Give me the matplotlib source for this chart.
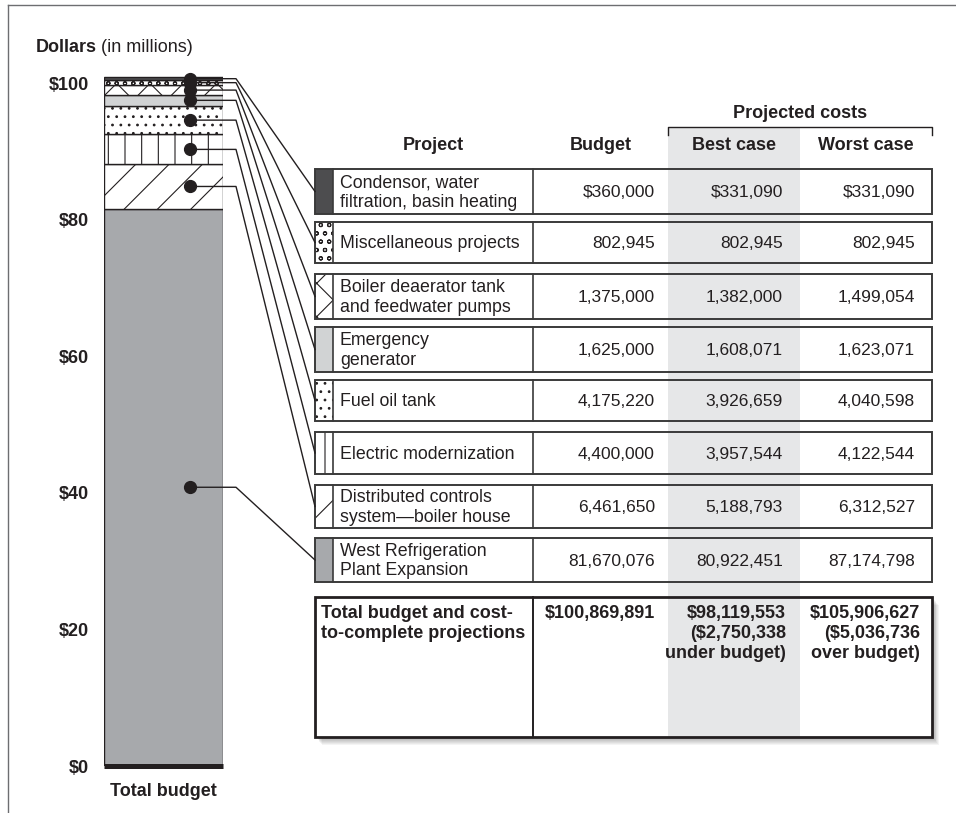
import matplotlib
matplotlib.use("Agg")
import matplotlib.pyplot as plt
from matplotlib.patches import Rectangle
import numpy as np

plt.rcParams['font.family'] = ['Liberation Sans', 'DejaVu Sans']
plt.rcParams['hatch.linewidth'] = 0.8
plt.rcParams['hatch.color'] = '#231f20'

# ---------------- data ----------------
projects = ["Condensor, water\nfiltration, basin heating",
            "Miscellaneous projects",
            "Boiler deaerator tank\nand feedwater pumps",
            "Emergency\ngenerator",
            "Fuel oil tank",
            "Electric modernization",
            "Distributed controls\nsystem\u2014boiler house",
            "West Refrigeration\nPlant Expansion"]
budget = [360000, 802945, 1375000, 1625000, 4175220, 4400000, 6461650, 81670076]
best = [331090, 802945, 1382000, 1608071, 3926659, 3957544, 5188793, 80922451]
worst = [331090, 802945, 1499054, 1623071, 4040598, 4122544, 6312527, 87174798]
col_headers = ["Project", "Budget", "Best case", "Worst case"]
group_header = "Projected costs"
total_label = "Total budget and cost-\nto-complete projections"
y_ticks = [0, 20, 40, 60, 80, 100]
y_tick_labels = ["$0", "$20", "$40", "$60", "$80", "$100"]

fills = ['#4d4d4f', 'white', 'white', '#d1d3d4', 'white', 'white', 'white', '#a7a9ac']
hatches = [None, 'oo', 'x', None, '..', '|', '/', None]

INK = '#231f20'
LINE = '#3a3a3a'
SHADE = '#e6e7e8'

# ---------------- figure ----------------
W, H = 956, 813
fig = plt.figure(figsize=(W / 100, H / 100), dpi=100)
fig.patch.set_facecolor('white')

PX = 6.826          # pixels per million
Y0 = 766            # pixel row of $0
YMAX = 102
axb = fig.add_axes([104 / W, (H - Y0) / H, 119 / W, YMAX * PX / H])
axb.set_xlim(0, 1)
axb.set_ylim(0, YMAX)
for s in axb.spines.values():
    s.set_visible(False)
axb.set_xticks([])
axb.set_yticks(y_ticks, y_tick_labels)
axb.tick_params(axis='y', length=0, pad=11, labelsize=13, labelcolor=INK)
for lbl in axb.get_yticklabels():
    lbl.set_fontweight('bold')
axb.patch.set_visible(False)

vals = np.array(budget) / 1e6
n = len(projects)
order = list(range(n))[::-1]   # bottom (West) to top (Condensor)
centers = {}
cum = 0.0
for i in order:
    axb.bar(0.5, vals[i], bottom=cum, width=1.0, color=fills[i], hatch=hatches[i],
            edgecolor=INK, linewidth=1.0, zorder=2)
    centers[i] = cum + vals[i] / 2
    cum += vals[i]
axb.plot([0, 1], [0, 0], color=INK, lw=3.6, solid_capstyle='butt', clip_on=False, zorder=4)
DOT_X = 0.72
for i in range(n):
    axb.plot(DOT_X, centers[i], 'o', color=INK, markersize=8.5, zorder=6, clip_on=False)

# ---------------- overlay (pixel coords, y down) ----------------
axo = fig.add_axes([0, 0, 1, 1], zorder=5)
axo.set_xlim(0, W)
axo.set_ylim(H, 0)
axo.axis('off')
axo.patch.set_visible(False)

# frame
axo.plot([8, 8], [5, H], color='#6d6e71', lw=1.0)
axo.plot([8, W], [5, 5], color='#6d6e71', lw=1.0)

# titles
t1 = axo.text(36, 47, "Dollars", fontsize=13, fontweight='bold', color=INK, va='center', ha='left')
fig.canvas.draw()
bb = t1.get_window_extent()
axo.text(bb.x1 + 4, 47, "(in millions)", fontsize=13, color=INK, va='center', ha='left')
axo.text(163, 791, "Total budget", fontsize=13, fontweight='bold', color=INK, ha='center', va='center')

# table geometry
X_L, X_SW, X_TXT, X_BUD, X_BEST, X_WORST, X_R = 315, 333, 533, 668, 668, 800, 932
row_tops = [169, 222, 274, 327, 380, 432, 485, 538]
row_bots = [214, 263, 319, 372, 421, 474, 528, 582]
TOT_T, TOT_B = 597, 737

# best-case column shading
axo.add_patch(Rectangle((X_BEST, 128), X_WORST - X_BEST, TOT_B - 128, facecolor=SHADE,
                        edgecolor='none', zorder=1))

# group header
axo.text((X_BEST + X_R) / 2, 113, group_header, fontsize=13, fontweight='bold', color=INK,
         ha='center', va='center')
axo.plot([X_BEST, X_BEST, X_R, X_R], [135, 127, 127, 135], color=INK, lw=1.0, zorder=3)

# column headers
hx = [(X_SW + X_TXT) / 2, (X_TXT + X_BUD) / 2, (X_BEST + X_WORST) / 2, (X_WORST + X_R) / 2]
for x, t in zip(hx, col_headers):
    axo.text(x, 146, t, fontsize=13, fontweight='bold', color=INK, ha='center', va='center', zorder=4)


def money(v, dollar):
    s = f"{v:,}"
    return "$" + s if dollar else s


for i in range(n):
    t, b = row_tops[i], row_bots[i]
    h = b - t
    axo.add_patch(Rectangle((X_L, t), X_BEST - X_L, h, facecolor='white', edgecolor='none', zorder=2))
    axo.add_patch(Rectangle((X_WORST, t), X_R - X_WORST, h, facecolor='white', edgecolor='none', zorder=2))
    axo.add_patch(Rectangle((X_L, t), X_SW - X_L, h, facecolor=fills[i], hatch=hatches[i],
                            edgecolor=INK, lw=0.0, zorder=3))
    axo.add_patch(Rectangle((X_L, t), X_R - X_L, h, facecolor='none', edgecolor=LINE, lw=1.4, zorder=4))
    axo.plot([X_SW, X_SW], [t, b], color=LINE, lw=1.2, zorder=4)
    axo.plot([X_TXT, X_TXT], [t, b], color=LINE, lw=1.2, zorder=4)
    cy = (t + b) / 2 + 1
    axo.text(X_SW + 7, cy, projects[i], fontsize=12.8, color=INK, ha='left', va='center',
             linespacing=1.22, zorder=5)
    d = (i == 0)
    axo.text(X_BUD - 13, cy, money(budget[i], d), fontsize=12.5, color=INK, ha='right', va='center', zorder=5)
    axo.text(X_WORST - 17, cy, money(best[i], d), fontsize=12.5, color=INK, ha='right', va='center', zorder=5)
    axo.text(X_R - 17, cy, money(worst[i], d), fontsize=12.5, color=INK, ha='right', va='center', zorder=5)

# leader lines from bar dots to table rows
CORNER_X = 236
for i in range(n):
    px, py = axb.transData.transform((DOT_X, centers[i]))
    yd = H - py
    yr = (row_tops[i] + row_bots[i]) / 2
    axo.plot([px, CORNER_X, X_L], [yd, yd, yr], color=INK, lw=1.0, zorder=6)

# total row with shadow
for k in range(1, 9):
    axo.add_patch(Rectangle((X_L + k * 0.9, TOT_T + k * 1.0), X_R - X_L, TOT_B - TOT_T,
                            facecolor='black', edgecolor='none', alpha=0.045, zorder=1.5))
axo.add_patch(Rectangle((X_L, TOT_T), X_BEST - X_L, TOT_B - TOT_T, facecolor='white', edgecolor='none', zorder=2))
axo.add_patch(Rectangle((X_WORST, TOT_T), X_R - X_WORST, TOT_B - TOT_T, facecolor='white', edgecolor='none', zorder=2))
axo.add_patch(Rectangle((X_BEST, TOT_T), X_WORST - X_BEST, TOT_B - TOT_T, facecolor=SHADE, edgecolor='none', zorder=2))
axo.add_patch(Rectangle((X_L, TOT_T), X_R - X_L, TOT_B - TOT_T, facecolor='none', edgecolor=INK, lw=2.0, zorder=4))
axo.plot([X_TXT, X_TXT], [TOT_T, TOT_B], color=INK, lw=1.4, zorder=4)

tb, tbest, tworst = sum(budget), sum(best), sum(worst)
line_y = 605
axo.text(X_L + 6, line_y, total_label, fontsize=13, fontweight='bold', color=INK, ha='left', va='top',
         linespacing=1.22, zorder=5)
axo.text(X_BUD - 13, line_y, f"${tb:,}", fontsize=13, fontweight='bold', color=INK, ha='right', va='top', zorder=5)
axo.text(X_WORST - 14, line_y,
         f"${tbest:,}\n(${tb - tbest:,}\nunder budget)", fontsize=13, fontweight='bold', color=INK,
         ha='right', va='top', linespacing=1.22, multialignment='right', zorder=5)
axo.text(X_R - 12, line_y,
         f"${tworst:,}\n(${tworst - tb:,}\nover budget)", fontsize=13, fontweight='bold', color=INK,
         ha='right', va='top', linespacing=1.22, multialignment='right', zorder=5)

fig.savefig("out.png", dpi=100)
